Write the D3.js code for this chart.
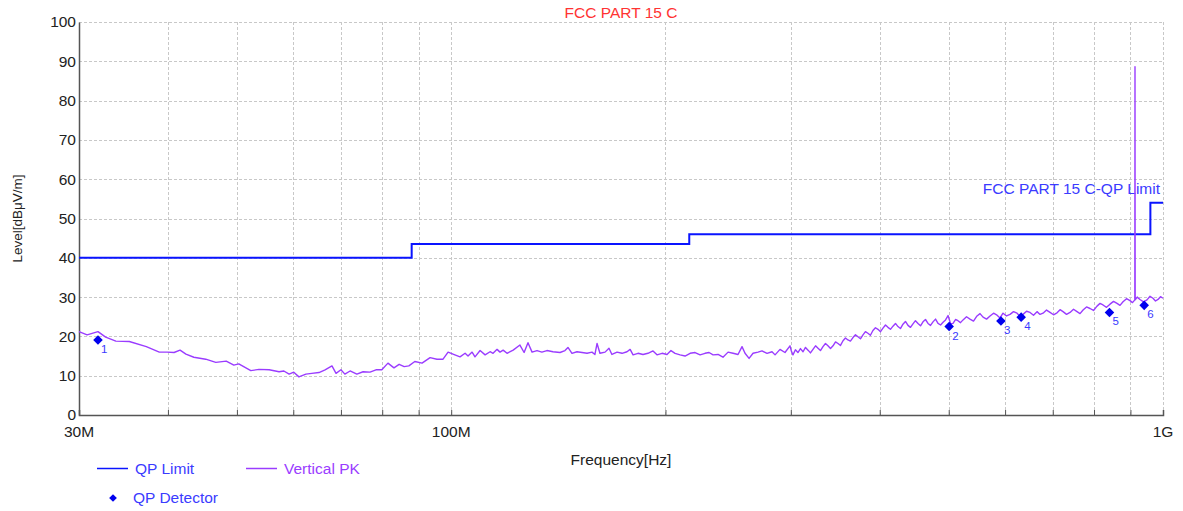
<!DOCTYPE html>
<html>
<head>
<meta charset="utf-8">
<script src="https://cdn.jsdelivr.net/npm/d3@7"></script>
<style>
  html, body { margin: 0; padding: 0; background: #fff; }
  svg { display: block; font-family: "Liberation Sans", Arial, sans-serif; }
</style>
</head>
<body>
<svg id="chart" width="1183" height="511"></svg>
<script>
// ---------------- DATA ----------------
const titleText = "FCC PART 15 C";
const limitName = "FCC PART 15 C-QP Limit";
const yTicks = [0, 10, 20, 30, 40, 50, 60, 70, 80, 90, 100];
const xGrid = [30, 40, 50, 60, 70, 80, 90, 100, 200, 300, 400, 500, 600, 700, 800, 900, 1000];
const xLabels = [{f: 30, t: "30M"}, {f: 100, t: "100M"}, {f: 1000, t: "1G"}];

// QP limit (MHz, dBuV/m) step function
const limitFreq = [30, 88, 88, 216, 216, 960, 960, 1000];
const limitLevel = [40, 40, 43.5, 43.5, 46, 46, 54, 54];

// Vertical PK trace (MHz)
const pkFreq = [
  30.0, 30.8, 31.9, 32.7, 33.8, 35.3, 37.3, 38.9, 39.9, 40.8, 41.6, 42.4, 43.5, 45.2, 46.7, 48.3,
  49.5, 50.3, 52.3, 53.7, 55.5, 57.3, 58.2, 59.2, 60.1, 61.1, 62.5, 63.7, 65.2, 66.5, 68.0, 68.9,
  70.0, 70.9, 72.1, 73.7, 75.2, 76.9, 78.4, 79.9, 81.5, 83.1, 84.5, 85.9, 87.2, 88.9, 91.0, 93.4,
  95.5, 97.4, 99.0, 101.2, 102.9, 104.6, 105.6, 107.0, 108.0, 109.8, 111.6, 113.4, 114.5, 116.0,
  117.1, 118.3, 119.8, 122.2, 124.9, 126.6, 128.2, 129.9, 132.0, 134.1, 136.3, 139.0, 142.2, 144.5,
  145.9, 147.8, 150.2, 152.7, 155.2, 157.7, 159.2, 160.3, 161.8, 164.5, 166.6, 168.2, 171.0, 173.8,
  176.6, 178.4, 180.1, 183.0, 186.0, 189.0, 192.1, 194.6, 197.8, 201.0, 203.6, 206.3, 209.7, 213.1,
  216.6, 220.1, 223.7, 227.3, 230.3, 233.3, 237.1, 240.9, 244.9, 248.9, 252.9, 256.2, 258.7, 262.1,
  265.5, 269.8, 273.3, 277.8, 282.3, 285.1, 289.7, 294.4,
  299.2, 300.6, 302.1, 304.5, 307.0, 309.5, 312.1, 314.6, 317.2, 319.7, 322.3, 325.0, 327.6, 330.2,
  332.9, 335.6, 338.3, 341.1, 343.9, 346.7, 349.5, 352.3, 355.2, 358.0, 360.9, 363.8, 366.8, 369.8,
  372.8, 375.8, 378.9, 381.9, 385.0, 388.1, 391.3, 394.5, 397.7, 401.0, 404.2, 407.5, 410.8, 414.1,
  417.5, 420.9, 424.3, 427.7, 431.2, 434.7, 438.3, 441.8, 445.4, 449.0, 452.7, 456.4, 460.1, 463.8,
  467.6, 471.4, 475.2, 479.1, 483.0, 487.0, 490.9, 494.9, 498.9, 503.0, 507.0, 511.1, 515.2, 519.4,
  523.7, 529.6, 535.6, 541.7, 547.9, 553.3, 558.7, 565.1, 571.5, 578.0, 584.6, 590.3, 596.0, 602.8,
  609.7, 616.6, 623.6, 629.7, 635.9, 643.1, 650.4, 657.8, 665.3, 671.8, 678.4, 686.1, 693.9, 701.8,
  709.8, 716.7, 723.7, 732.0, 740.3, 748.7, 757.2, 764.6, 772.1, 780.9, 789.7, 798.7, 807.8, 815.7,
  823.6, 833.0, 842.5, 852.1, 861.8, 870.2, 878.7, 888.7, 898.8, 906.0, 912.9, 913.4, 913.9, 920.0,
  928.3, 938.9, 949.6, 958.9, 968.2, 976.0, 984.0, 992.0, 1000
];
const pkLevel = [
  21.2, 20.4, 21.2, 19.8, 18.8, 18.7, 17.4, 16.0, 16.0, 15.9, 16.5, 15.5, 14.7, 14.2, 13.4, 13.7,
  12.7, 13.0, 11.3, 11.6, 11.5, 11.0, 11.2, 10.4, 10.9, 9.7, 10.4, 10.6, 10.8, 11.5, 12.5, 10.6,
  11.5, 10.4, 11.2, 10.4, 11.0, 10.9, 11.5, 11.5, 13.2, 12.0, 12.9, 12.3, 12.5, 13.6, 13.2, 14.6,
  14.2, 14.2, 16.0, 15.3, 14.8, 15.7, 15.0, 16.0, 14.8, 16.4, 15.3, 16.1, 15.7, 16.7,
  16.0, 16.5, 15.7, 16.5, 17.8, 15.9, 18.4, 16.0, 16.4, 16.0, 16.4, 16.1, 15.9, 16.4,
  17.2, 15.7, 16.1, 15.9, 15.7, 16.0, 15.4, 18.2, 15.7, 16.0, 17.0, 15.4, 16.0, 15.7,
  16.1, 16.7, 15.3, 15.7, 15.4, 15.7, 16.3, 15.3, 15.7, 15.4, 16.4, 15.7, 15.3, 15.0,
  15.7, 15.9, 15.3, 15.7, 15.9, 15.3, 15.4, 14.7, 16.0, 15.7, 15.4, 17.4, 15.7, 14.4,
  15.7, 16.0, 16.3, 15.7, 16.1, 15.3, 16.7, 15.9,
  17.6, 16.2, 15.3, 16.6, 15.9, 16.9, 16.1, 17.2, 16.5, 15.8, 16.7, 17.6, 17.0, 16.4,
  17.4, 18.2, 17.6, 16.9, 17.6, 18.6, 18.2, 17.7, 18.9, 19.6, 19.1, 18.8, 19.7, 20.4,
  19.9, 19.4, 20.4, 21.2, 20.8, 20.3, 21.5, 22.2, 21.8, 21.2, 22.1, 22.9, 22.3, 21.8,
  22.6, 23.3, 22.5, 22.0, 23.1, 23.8, 22.8, 22.3, 23.2, 24.0, 23.3, 22.7, 23.7, 24.3,
  23.3, 22.8, 23.7, 24.4, 23.3, 22.9, 23.6, 24.2, 25.3, 23.2, 23.3, 24.3, 24.0, 23.5,
  24.2, 25.0, 24.4, 23.9, 25.2, 25.8, 24.9, 24.4, 25.2, 25.9, 25.4, 24.7, 25.9, 25.2,
  25.6, 26.3, 25.9, 25.1, 25.6, 26.4, 26.1, 25.4, 26.3, 25.6, 25.9, 26.7, 26.1, 25.5,
  26.0, 26.8, 26.3, 25.6, 26.1, 26.9, 26.3, 25.8, 26.7, 27.5, 27.1, 26.6, 27.7, 28.4,
  28.0, 27.4, 28.2, 28.9, 28.4, 27.9, 28.8, 29.6, 29.1, 28.6, 29.3, 88.6, 29.3, 30.0,
  29.4, 28.8, 29.3, 30.2, 29.7, 29.0, 29.4, 30.1, 29.7
];

// QP detector points
const qpFreq = [31.9, 500.7, 592.0, 632.0, 841.0, 941.0];
const qpLevel = [19.1, 22.5, 23.9, 24.9, 26.1, 27.9];
const qpLabels = ["1", "2", "3", "4", "5", "6"];

// ---------------- CHART ----------------
const svg = d3.select("#chart");
const pL = 79, pR = 1163, pT = 22, pB = 415;
const FS = 15.5;

const x = d3.scaleLog().domain([30, 1000]).range([pL, pR]);
const y = d3.scaleLinear().domain([0, 100]).range([pB, pT]);

// grid
const grid = svg.append("g").attr("stroke", "#c8c8c8").attr("stroke-dasharray", "3,2").attr("stroke-width", 1);
grid.selectAll("line.h").data(yTicks.filter(d => d > 0)).join("line")
  .attr("x1", pL).attr("x2", pR)
  .attr("y1", d => Math.round(y(d)) + 0.5).attr("y2", d => Math.round(y(d)) + 0.5);
grid.selectAll("line.v").data(xGrid.filter(d => d > 30)).join("line")
  .attr("x1", d => Math.round(x(d)) + 0.5).attr("x2", d => Math.round(x(d)) + 0.5)
  .attr("y1", pT).attr("y2", pB);

// axes
const yAxis = d3.axisLeft(y).tickValues(yTicks).tickSize(0).tickPadding(3).tickFormat(d3.format("d"));
const gy = svg.append("g").attr("transform", `translate(${pL},0)`).call(yAxis);
gy.select(".domain").attr("stroke", "#555").attr("stroke-width", 1.5);
gy.selectAll("text").attr("font-size", FS).attr("fill", "#222").attr("font-family", "Liberation Sans, Arial, sans-serif");

const xAxis = d3.axisTop(x).tickValues(xGrid).tickSize(5).tickFormat("");
const gx = svg.append("g").attr("transform", `translate(0,${pB})`).call(xAxis);
gx.select(".domain").attr("stroke", "#555").attr("stroke-width", 1.5);
gx.selectAll(".tick line").attr("stroke", "#555");

svg.append("g").selectAll("text").data(xLabels).join("text")
  .attr("x", d => x(d.f)).attr("y", 437)
  .attr("text-anchor", "middle").attr("font-size", FS).attr("fill", "#222")
  .text(d => d.t);

// axis titles
svg.append("text").attr("x", 621).attr("y", 465).attr("text-anchor", "middle")
  .attr("font-size", FS).attr("fill", "#222").text("Frequency[Hz]");
svg.append("text").attr("transform", `translate(22,${(pT + pB) / 2}) rotate(-90)`)
  .attr("text-anchor", "middle").attr("font-size", 13.5).attr("fill", "#222").text("Level[dBμV/m]");

// title
svg.append("text").attr("x", 621).attr("y", 18).attr("text-anchor", "middle")
  .attr("font-size", FS).attr("fill", "#ff3333").text(titleText);

// limit line
const limitData = limitFreq.map((f, i) => [f, limitLevel[i]]);
svg.append("path").datum(limitData)
  .attr("fill", "none").attr("stroke", "#0a14ff").attr("stroke-width", 2)
  .attr("d", d3.line().x(d => x(d[0])).y(d => y(d[1])));

svg.append("text").attr("x", 1160).attr("y", 194).attr("text-anchor", "end")
  .attr("font-size", FS).attr("fill", "#3b3bff").text(limitName);

// PK trace
const pkData = pkFreq.map((f, i) => [f, pkLevel[i]]);
svg.append("path").datum(pkData)
  .attr("fill", "none").attr("stroke", "#9a3cff").attr("stroke-width", 1.4)
  .attr("stroke-linejoin", "round")
  .attr("d", d3.line().x(d => x(d[0])).y(d => y(d[1])));

// QP detector markers (square rotated 45deg = diamond)
const qpData = qpFreq.map((f, i) => ({f, l: qpLevel[i], t: qpLabels[i]}));
const diamond = d3.symbol().type(d3.symbolSquare).size(46);
svg.append("g").selectAll("path").data(qpData).join("path")
  .attr("transform", d => `translate(${x(d.f)},${y(d.l)}) rotate(45)`)
  .attr("d", diamond).attr("fill", "#0000ee");
svg.append("g").selectAll("text").data(qpData).join("text")
  .attr("x", d => x(d.f) + 3).attr("y", d => y(d.l) + 13)
  .attr("font-size", 11.5).attr("fill", "#3b3bff").text(d => d.t);

// legend
const lg = svg.append("g");
lg.append("line").attr("x1", 97).attr("x2", 128).attr("y1", 468.5).attr("y2", 468.5).attr("stroke", "#0a14ff").attr("stroke-width", 1.5);
lg.append("text").attr("x", 135).attr("y", 474).attr("font-size", FS).attr("fill", "#3b3bff").text("QP Limit");
lg.append("line").attr("x1", 246).attr("x2", 277).attr("y1", 468.5).attr("y2", 468.5).attr("stroke", "#9a3cff").attr("stroke-width", 1.5);
lg.append("text").attr("x", 284).attr("y", 474).attr("font-size", FS).attr("fill", "#9a3cff").text("Vertical PK");
lg.append("path").attr("transform", "translate(113,498) rotate(45)").attr("d", d3.symbol().type(d3.symbolSquare).size(30)).attr("fill", "#0000ee");
lg.append("text").attr("x", 133).attr("y", 503).attr("font-size", FS).attr("fill", "#3b3bff").text("QP Detector");
</script>
</body>
</html>
